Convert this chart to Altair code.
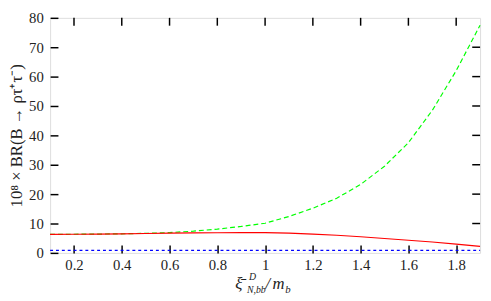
import altair as alt
import pandas as pd

# data
xs = [0.1, 0.2, 0.3, 0.4, 0.5, 0.6, 0.7, 0.8, 0.9, 1.0, 1.1, 1.2, 1.3, 1.4, 1.5, 1.6, 1.7, 1.8, 1.9]
red = [6.3, 6.35, 6.4, 6.5, 6.6, 6.7, 6.8, 6.85, 6.9, 6.9, 6.75, 6.4, 6.0, 5.5, 4.9, 4.3, 3.7, 3.0, 2.2]
green = [6.3, 6.35, 6.4, 6.5, 6.65, 6.9, 7.4, 8.1, 9.0, 10.1, 12.4, 15.2, 18.6, 23.3, 29.5, 37.5, 48.5, 62.0, 77.5]
blue = [0.85] * len(xs)
xticks = [0.2, 0.4, 0.6, 0.8, 1.0, 1.2, 1.4, 1.6, 1.8]
yticks = [0, 10, 20, 30, 40, 50, 60, 70, 80]

W, H = 439, 240
FONT = "Liberation Serif, Times New Roman, serif"

df = pd.DataFrame({"x": xs, "red": red, "green": green, "blue": blue})

xscale = alt.Scale(domain=[0.1, 1.9], nice=False, zero=False)
yscale = alt.Scale(domain=[0, 80], nice=False)

xaxis = alt.Axis(values=xticks, offset=-8, tickSize=8, tickWidth=1.5, tickColor="black",
                 domain=False, grid=False, labelPadding=5, labelFont=FONT, labelFontSize=15,
                 labelColor="#222", title=None, labelOverlap=False,
                 labelExpr="datum.value == 1 ? '1' : format(datum.value, '.1f')")
yaxis = alt.Axis(values=yticks, offset=-8, tickSize=8, tickWidth=1.5, tickColor="black",
                 domain=False, grid=False, labelPadding=7, labelFont=FONT, labelFontSize=15,
                 labelColor="#222", labelOverlap=False,
                 title="10⁸ × BR(B → ρτ⁺τ⁻)", titleFont=FONT,
                 titleFontSize=17, titleFontWeight="normal", titleColor="#222", titlePadding=3)

base = alt.Chart(df)
X = alt.X("x:Q", scale=xscale, axis=xaxis)

blue_line = base.mark_line(color="#0000ff", strokeWidth=1.2, strokeDash=[3, 3]).encode(
    x=X, y=alt.Y("blue:Q", scale=yscale, axis=yaxis))
green_line = base.mark_line(color="#00ff00", strokeWidth=1.2, strokeDash=[5, 3]).encode(
    x=X, y=alt.Y("green:Q", scale=yscale, axis=yaxis))
red_line = base.mark_line(color="#ff0000", strokeWidth=1.2).encode(
    x=X, y=alt.Y("red:Q", scale=yscale, axis=yaxis))

top_ticks = alt.Chart(pd.DataFrame({"t": xticks})).mark_rule(color="black", strokeWidth=1.5).encode(
    x=alt.X("t:Q", scale=xscale, axis=xaxis), y=alt.value(0), y2=alt.value(8))
right_ticks = alt.Chart(pd.DataFrame({"t": yticks[1:-1]})).mark_rule(color="black", strokeWidth=1.5).encode(
    y=alt.Y("t:Q", scale=yscale, axis=yaxis), x=alt.value(W - 8), x2=alt.value(W))

# x-axis title with sub/superscripts
title_parts = pd.DataFrame({
    "txt": ["ξ̄", "D", "N,bb", "/", "m", "b"],
    "px": [189, 203, 201, 220, 227, 240],
    "py": [277, 268, 281, 277, 277, 281],
    "sz": [17, 10, 10, 17, 17, 11],
})
xtitle = alt.Chart(title_parts).mark_text(font=FONT, fontStyle="italic", align="left",
                                          baseline="alphabetic", color="#222").encode(
    text="txt:N", x=alt.X("px:Q", scale=None), y=alt.Y("py:Q", scale=None),
    size=alt.Size("sz:Q", scale=None, legend=None))

chart = alt.layer(blue_line, green_line, red_line, top_ticks, right_ticks, xtitle).properties(
    width=W, height=H, padding=0
).configure_view(stroke="black", strokeWidth=1.5).configure(background="white")

chart.save("out.html", embed_options={"renderer": "svg", "actions": False})
